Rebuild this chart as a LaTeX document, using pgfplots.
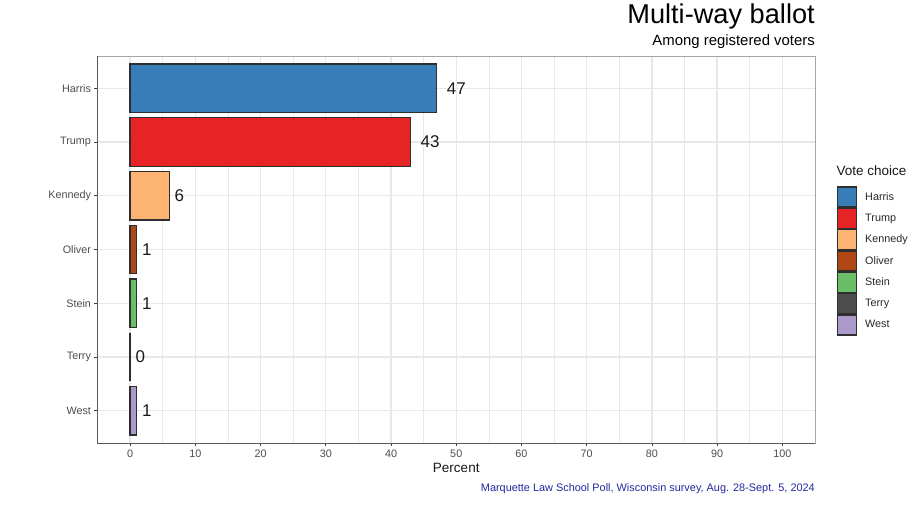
\documentclass[border=0pt]{standalone}
\usepackage{fontspec}
\setmainfont{Liberation Sans}
\usepackage{pgfplots}
\pgfplotsset{compat=1.18}
\definecolor{cHarris}{HTML}{377EB8}
\definecolor{cTrump}{HTML}{E62425}
\definecolor{cKennedy}{HTML}{FDB472}
\definecolor{cOliver}{HTML}{AE4713}
\definecolor{cStein}{HTML}{69BE67}
\definecolor{cTerry}{HTML}{4D4D4D}
\definecolor{cWest}{HTML}{AC99CB}
\definecolor{gridc}{HTML}{E8E8E8}
\definecolor{capblue}{HTML}{2626A0}
\begin{document}
\begin{tikzpicture}
\useasboundingbox (0pt,0pt) rectangle (922pt,513pt);
\begin{axis}[
  at={(97.5pt,70pt)}, anchor=south west,
  scale only axis, width=717.5pt, height=387pt,
  xbar, bar shift=0pt, bar width=0.9,
  clip=false,
  xmin=-5, xmax=105, ymin=0.4, ymax=7.6,
  xtick={0,10,...,100}, minor x tick num=1,
  ytick={1,...,7},
  yticklabels={West,Terry,Stein,Oliver,Kennedy,Trump,Harris},
  /pgf/number format/assume math mode=true,
  tick pos=left, tick align=outside,
  major tick length=3pt, minor tick length=0pt,
  tick style={black!75, line width=0.8pt},
  ticklabel style={text=black!70, font=\fontsize{10.8}{13}\selectfont},
  xmajorgrids, xminorgrids, ymajorgrids,
  major grid style={gridc, line width=1.4pt},
  minor grid style={gridc, line width=0.7pt},
  axis line style={black!35, line width=0.9pt},
  xlabel={Percent},
  xlabel style={at={(axis description cs:0.5,-0.0775)}, anchor=base,
    font=\fontsize{13.5}{16}\selectfont, text=black!90},
  point meta=x,
  nodes near coords={\makebox[1.5\width][r]{\pgfmathprintnumber{\pgfplotspointmeta}}},
  nodes near coords style={font=\fontsize{17}{20}\selectfont, text=black!90,
    anchor=west, inner sep=0pt},
  every axis plot/.append style={draw=black!82, line width=1.35pt},
  legend image code/.code={\draw[#1] (0pt,-10pt) rectangle (19pt,10pt);},
  legend cell align=left,
  legend style={at={(axis description cs:1.0302,0.6641)}, anchor=north west,
    draw=none, fill=none, inner sep=0pt, row sep=0pt, column sep=8pt,
    font=\fontsize{10.8}{13}\selectfont, text=black!85,
    nodes={inner sep=0pt}},
]
\addplot[fill=cHarris] coordinates {(47,7)};
\addplot[fill=cTrump] coordinates {(43,6)};
\addplot[fill=cKennedy] coordinates {(6,5)};
\addplot[fill=cOliver] coordinates {(1,4)};
\addplot[fill=cStein] coordinates {(1,3)};
\addplot[fill=cTerry] coordinates {(0,2)};
\addplot[fill=cWest] coordinates {(1,1)};
\legend{Harris,Trump,Kennedy,Oliver,Stein,Terry,West}
\draw[black!65, line width=0.9pt] (rel axis cs:0,1) -- (rel axis cs:0,0) -- (rel axis cs:1,0);
\end{axis}
\node[anchor=base east, inner sep=0pt, font=\fontsize{27.2}{32}\selectfont] at (815pt,489pt) {Multi-way ballot};
\node[anchor=base east, inner sep=0pt, font=\fontsize{14.9}{18}\selectfont] at (815pt,467pt) {Among registered voters};
\node[anchor=base west, inner sep=0pt, font=\fontsize{13.5}{16}\selectfont, text=black!90] at (836.5pt,337pt) {Vote choice};
\node[anchor=base east, inner sep=0pt, font=\fontsize{10.9}{13}\selectfont, text=capblue] at (815pt,21pt) {Marquette Law School Poll, Wisconsin survey, Aug. 28-Sept. 5, 2024};
\end{tikzpicture}
\end{document}
